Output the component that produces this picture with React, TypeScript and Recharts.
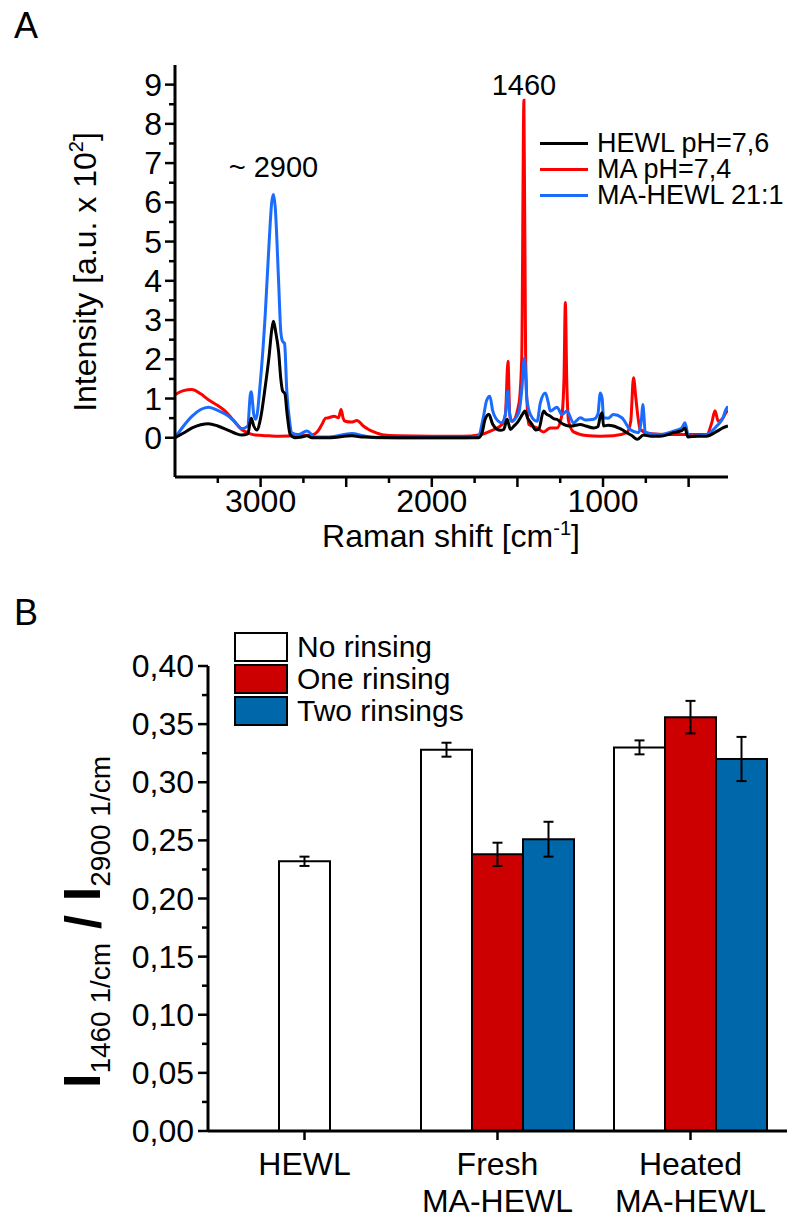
import React from "react";
import { LineChart, Line, XAxis, YAxis, BarChart, Bar, ErrorBar, ReferenceDot } from "recharts";

// ---------- panel A: Raman spectra ----------
const hewlShift = [3500, 3450, 3400, 3350, 3305, 3250, 3188, 3140, 3110, 3075, 3055, 3040, 3022, 3000, 2973, 2950, 2935, 2925, 2912, 2895, 2882, 2872, 2858, 2845, 2827, 2798, 2760, 2730, 2700, 2600, 2467, 2400, 2200, 2000, 1800, 1726, 1705, 1690, 1667, 1645, 1620, 1599, 1580, 1560, 1541, 1520, 1502, 1470, 1457, 1440, 1415, 1395, 1376, 1347, 1330, 1308, 1285, 1269, 1250, 1230, 1200, 1181, 1160, 1133, 1100, 1055, 1030, 1016, 1005, 997, 970, 939, 910, 890, 861, 830, 800, 764, 720, 667, 620, 589, 540, 521, 505, 450, 395, 340, 300, 270];
const hewlInt = [0, 0.12, 0.25, 0.33, 0.36, 0.3, 0.19, 0.1, 0.07, 0.1, 0.5, 0.3, 0.2, 0.5, 1.3, 2.1, 2.75, 2.97, 2.7, 2.2, 1.5, 1.2, 1.12, 0.6, 0.08, 0, 0.02, 0.05, 0, 0, 0.05, 0.02, 0, 0, 0, 0, 0.15, 0.45, 0.6, 0.35, 0.22, 0.19, 0.21, 0.47, 0.21, 0.3, 0.38, 0.6, 0.68, 0.5, 0.34, 0.2, 0.21, 0.68, 0.6, 0.55, 0.48, 0.47, 0.4, 0.34, 0.3, 0.3, 0.32, 0.34, 0.3, 0.25, 0.28, 0.55, 0.64, 0.3, 0.32, 0.3, 0.25, 0.21, 0.13, 0.05, -0.04, 0.07, 0.04, 0.04, 0.08, 0.13, 0.18, 0.25, 0.02, 0.04, 0.04, 0.15, 0.25, 0.3];

const maShift = [3500, 3450, 3402, 3350, 3305, 3250, 3207, 3160, 3110, 3060, 3032, 2950, 2895, 2800, 2700, 2660, 2642, 2620, 2603, 2570, 2545, 2530, 2518, 2505, 2470, 2437, 2400, 2369, 2320, 2291, 2200, 2000, 1823, 1716, 1658, 1590, 1570, 1555, 1545, 1531, 1492, 1475, 1462, 1452, 1434, 1385, 1347, 1308, 1269, 1240, 1228, 1220, 1212, 1201, 1172, 1100, 1016, 940, 861, 838, 822, 808, 795, 783, 720, 628, 500, 395, 365, 346, 327, 300, 282, 270];
const maInt = [1.1, 1.2, 1.23, 1.12, 0.97, 0.82, 0.68, 0.45, 0.21, 0.1, 0.07, 0.05, 0.04, 0.05, 0.07, 0.2, 0.34, 0.5, 0.51, 0.55, 0.51, 0.72, 0.5, 0.42, 0.4, 0.44, 0.3, 0.21, 0.12, 0.08, 0.05, 0.04, 0.04, 0.08, 0.17, 0.34, 0.6, 1.95, 0.6, 0.42, 0.85, 2.0, 8.6, 2.0, 0.34, 0.25, 0.15, 0.25, 0.25, 0.59, 1.5, 3.45, 1.5, 0.42, 0.15, 0.06, 0.04, 0.05, 0.13, 0.42, 1.53, 1.0, 0.5, 0.21, 0.1, 0.08, 0.08, 0.08, 0.38, 0.69, 0.42, 0.5, 0.64, 0.7];

const mixShift = [3500, 3450, 3400, 3350, 3305, 3250, 3188, 3150, 3110, 3075, 3060, 3055, 3040, 3028, 3000, 2973, 2950, 2935, 2925, 2915, 2895, 2882, 2872, 2860, 2847, 2830, 2818, 2780, 2730, 2681, 2600, 2467, 2400, 2310, 2000, 1800, 1726, 1705, 1696, 1680, 1661, 1645, 1628, 1590, 1570, 1556, 1545, 1537, 1492, 1475, 1459, 1445, 1424, 1385, 1366, 1337, 1320, 1308, 1269, 1240, 1211, 1172, 1133, 1100, 1055, 1030, 1016, 1005, 997, 970, 939, 890, 842, 793, 775, 768, 760, 754, 667, 589, 540, 521, 501, 395, 336, 300, 282, 270];
const mixInt = [0, 0.3, 0.55, 0.72, 0.78, 0.7, 0.55, 0.4, 0.23, 0.3, 1.1, 1.17, 0.6, 0.47, 1.5, 3.14, 5.0, 6.0, 6.2, 5.9, 4.0, 2.7, 2.46, 2.4, 1.19, 0.4, 0.13, 0.08, 0.17, 0.02, 0.02, 0.11, 0.05, 0, 0, 0, 0.04, 0.4, 0.59, 0.95, 1.06, 0.7, 0.51, 0.38, 0.6, 1.19, 0.6, 0.42, 0.64, 1.2, 2.03, 1.0, 0.59, 0.42, 0.89, 1.14, 0.9, 0.68, 0.78, 0.59, 0.68, 0.38, 0.51, 0.45, 0.47, 0.6, 1.14, 1.0, 0.51, 0.5, 0.59, 0.51, 0.21, 0.13, 0.5, 0.85, 0.5, 0.13, 0.08, 0.17, 0.25, 0.38, 0.04, 0.08, 0.3, 0.5, 0.72, 0.8];

const spectraNames = ["HEWL pH=7,6", "MA pH=7,4", "MA-HEWL 21:1"];
const spectraColors = ["#000000", "#ff0000", "#1a6cff"];

const shiftTicks = [3250, 3000, 2750, 2500, 2250, 2000, 1750, 1500, 1250, 1000, 750, 500];
const intTicks = [0, 0.5, 1, 1.5, 2, 2.5, 3, 3.5, 4, 4.5, 5, 5.5, 6, 6.5, 7, 7.5, 8, 8.5, 9];

// ---------- panel B: intensity ratio ----------
const groups = ["HEWL", "Fresh\nMA-HEWL", "Heated\nMA-HEWL"];
const noRinsing = [0.232, 0.328, 0.330];
const noRinsingErr = [0.004, 0.006, 0.006];
const oneRinsing = [null, 0.238, 0.356];
const oneRinsingErr = [null, 0.010, 0.014];
const twoRinsings = [null, 0.251, 0.320];
const twoRinsingsErr = [null, 0.015, 0.019];
const ratioTicks = [0, 0.025, 0.05, 0.075, 0.1, 0.125, 0.15, 0.175, 0.2, 0.225, 0.25, 0.275, 0.3, 0.325, 0.35, 0.375, 0.4];

const barNames = ["No rinsing", "One rinsing", "Two rinsings"];
const barColors = ["#ffffff", "#cc0000", "#0068aa"];

const FONT = "'Liberation Sans', Arial, Helvetica, sans-serif";

const toSeries = (xs: number[], ys: number[]) => xs.map((wn, i) => ({ wn, v: ys[i] }));
const hewlData = toSeries(hewlShift, hewlInt);
const maData = toSeries(maShift, maInt);
const mixData = toSeries(mixShift, mixInt);

const barData = groups.map((g, i) => ({
  cat: g,
  solo: i === 0 ? noRinsing[i] : null,
  soloErr: i === 0 ? noRinsingErr[i] : null,
  none: i === 0 ? null : noRinsing[i],
  noneErr: i === 0 ? null : noRinsingErr[i],
  one: oneRinsing[i],
  oneErr: oneRinsingErr[i],
  two: twoRinsings[i],
  twoErr: twoRinsingsErr[i],
}));

const ShiftTick = (p: any) => {
  const v = p.payload.value;
  const major = v % 500 === 0;
  return (
    <g>
      <line x1={p.x} x2={p.x} y1={p.y} y2={p.y + (major ? 10 : 6)} stroke="#000" strokeWidth={2.5} />
      {v % 1000 === 0 && (
        <text x={p.x} y={p.y + 35} textAnchor="middle" fontSize={32} fontFamily={FONT} fill="#000">{v}</text>
      )}
    </g>
  );
};

const IntTick = (p: any) => {
  const v = p.payload.value;
  const major = v % 1 === 0;
  return (
    <g>
      <line x1={p.x - (major ? 10 : 6)} x2={p.x} y1={p.y} y2={p.y} stroke="#000" strokeWidth={2.5} />
      {major && (
        <text x={p.x - 13} y={p.y + 11} textAnchor="end" fontSize={32} fontFamily={FONT} fill="#000">{v}</text>
      )}
    </g>
  );
};

const IntTitle = () => (
  <text transform="translate(96,272) rotate(-90)" textAnchor="middle" fontSize={32} fontFamily={FONT} fill="#000">
    Intensity [a.u. x 10<tspan fontSize={20} dy={-13}>2</tspan><tspan dy={13}>]</tspan>
  </text>
);

const ShiftTitle = () => (
  <text x={451} y={547} textAnchor="middle" fontSize={32} fontFamily={FONT} fill="#000">
    Raman shift [cm<tspan fontSize={20} dy={-12}>-1</tspan><tspan dy={12}>]</tspan>
  </text>
);

const RatioTick = (p: any) => {
  const v = p.payload.value;
  const major = Math.round(v * 1000) % 50 === 0;
  return (
    <g>
      <line x1={p.x - (major ? 10 : 6)} x2={p.x} y1={p.y} y2={p.y} stroke="#000" strokeWidth={2.5} />
      {major && (
        <text x={p.x - 14} y={p.y + 11} textAnchor="end" fontSize={32} fontFamily={FONT} fill="#000">
          {v.toFixed(2).replace(".", ",")}
        </text>
      )}
    </g>
  );
};

const GroupTick = (p: any) => {
  const lines = String(p.payload.value).split("\n");
  return (
    <g>
      <line x1={p.x} x2={p.x} y1={p.y} y2={p.y + 9} stroke="#000" strokeWidth={2.5} />
      {lines.map((t, i) => (
        <text key={i} x={p.x} y={p.y + 44 + i * 37} textAnchor="middle" fontSize={32} fontFamily={FONT} fill="#000">{t}</text>
      ))}
    </g>
  );
};

const RatioTitle = () => (
  <text transform="translate(100,362) rotate(-90)" textAnchor="middle" fontFamily={FONT} fill="#000">
    <tspan fontSize={52} fontWeight="bold">I</tspan>
    <tspan fontSize={28} dy={10}>1460 1/cm</tspan>
    <tspan fontSize={50} fontWeight="bold" dy={-10}> / </tspan>
    <tspan fontSize={52} fontWeight="bold">I</tspan>
    <tspan fontSize={28} dy={10}>2900 1/cm</tspan>
  </text>
);

export default function App() {
  const axisLine = { stroke: "#000", strokeWidth: 3 };
  return (
    <div style={{ position: "absolute", left: 0, top: 0, width: 805, height: 1222, background: "#fff", fontFamily: FONT }}>
      <div style={{ position: "absolute", left: 14, top: 5, fontSize: 36 }}>A</div>
      <div style={{ position: "absolute", left: 14, top: 592, fontSize: 36 }}>B</div>

      <div style={{ position: "absolute", left: 0, top: 0 }}>
        <LineChart width={805} height={560} margin={{ top: 65, right: 77, bottom: 0, left: 0 }}>
          <XAxis type="number" dataKey="wn" domain={[270, 3500]} reversed allowDataOverflow ticks={shiftTicks} interval={0}
            tickSize={0} tickMargin={0} tickLine={false} tick={<ShiftTick />} axisLine={axisLine} height={83} label={<ShiftTitle />} />
          <YAxis type="number" domain={[-1.0, 9.5]} allowDataOverflow ticks={intTicks} interval={0} width={175}
            tickSize={0} tickMargin={0} tickLine={false} tick={<IntTick />} axisLine={axisLine} label={<IntTitle />} />
          <Line data={maData} dataKey="v" type="monotone" stroke={spectraColors[1]} strokeWidth={3} dot={false} isAnimationActive={false} />
          <Line data={mixData} dataKey="v" type="monotone" stroke={spectraColors[2]} strokeWidth={3} dot={false} isAnimationActive={false} />
          <Line data={hewlData} dataKey="v" type="monotone" stroke={spectraColors[0]} strokeWidth={3} dot={false} isAnimationActive={false} />
          <ReferenceDot x={2925} y={6.2} r={0} stroke="none"
            label={{ value: "~ 2900", position: "top", offset: 17, fontSize: 29, fill: "#000", fontFamily: FONT }} />
          <ReferenceDot x={1462} y={8.6} r={0} stroke="none"
            label={{ value: "1460", position: "top", offset: 5, fontSize: 29, fill: "#000", fontFamily: FONT }} />
        </LineChart>
      </div>

      <div style={{ position: "absolute", left: 540, top: 130 }}>
        {spectraNames.map((n, i) => (
          <div key={n} style={{ display: "flex", alignItems: "center", height: 26 }}>
            <div style={{ width: 48, height: 3, background: spectraColors[i], marginRight: 9 }} />
            <span style={{ fontSize: 27, lineHeight: "26px", whiteSpace: "nowrap" }}>{n}</span>
          </div>
        ))}
      </div>

      <div style={{ position: "absolute", left: 0, top: 560 }}>
        <BarChart width={805} height={662} data={barData} margin={{ top: 106, right: 18, bottom: 0, left: 0 }} barGap={0} barCategoryGap={0}>
          <XAxis xAxisId="main" dataKey="cat" type="category" interval={0} height={91} tickSize={0} tickMargin={0} tickLine={false}
            tick={<GroupTick />} axisLine={axisLine} />
          <XAxis xAxisId="solo" dataKey="cat" type="category" hide />
          <YAxis type="number" domain={[0, 0.4]} ticks={ratioTicks} interval={0} width={208} tickSize={0} tickMargin={0} tickLine={false}
            tick={<RatioTick />} axisLine={axisLine} label={<RatioTitle />} />
          <Bar xAxisId="solo" dataKey="solo" barSize={51} fill={barColors[0]} stroke="#000" strokeWidth={2} isAnimationActive={false}>
            <ErrorBar dataKey="soloErr" width={5} stroke="#000" strokeWidth={2} />
          </Bar>
          <Bar xAxisId="main" dataKey="none" barSize={51} fill={barColors[0]} stroke="#000" strokeWidth={2} isAnimationActive={false}>
            <ErrorBar dataKey="noneErr" width={5} stroke="#000" strokeWidth={2} />
          </Bar>
          <Bar xAxisId="main" dataKey="one" barSize={51} fill={barColors[1]} stroke="#000" strokeWidth={2} isAnimationActive={false}>
            <ErrorBar dataKey="oneErr" width={5} stroke="#000" strokeWidth={2} />
          </Bar>
          <Bar xAxisId="main" dataKey="two" barSize={51} fill={barColors[2]} stroke="#000" strokeWidth={2} isAnimationActive={false}>
            <ErrorBar dataKey="twoErr" width={5} stroke="#000" strokeWidth={2} />
          </Bar>
        </BarChart>
      </div>

      <div style={{ position: "absolute", left: 234, top: 631 }}>
        {barNames.map((n, i) => (
          <div key={n} style={{ display: "flex", alignItems: "center", height: 32 }}>
            <div style={{ width: 50, height: 26, background: barColors[i], border: "2px solid #000", marginRight: 9 }} />
            <span style={{ fontSize: 30, lineHeight: "32px", whiteSpace: "nowrap" }}>{n}</span>
          </div>
        ))}
      </div>
    </div>
  );
}
